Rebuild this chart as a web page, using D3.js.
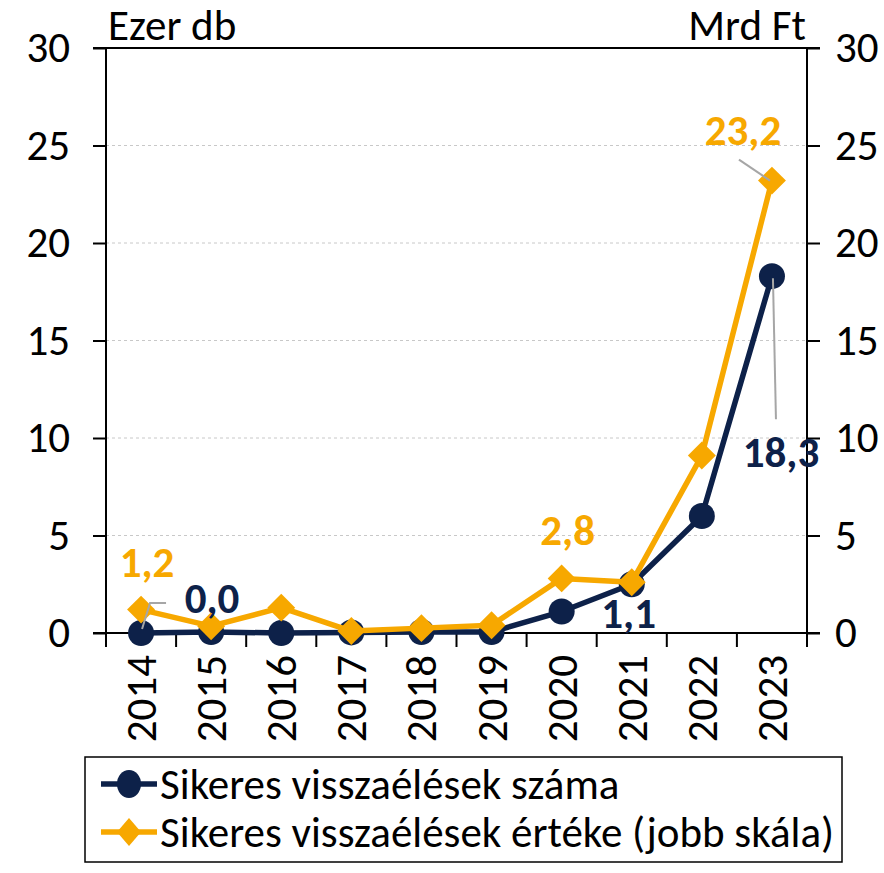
<!DOCTYPE html>
<html>
<head>
<meta charset="utf-8">
<script src="https://cdn.jsdelivr.net/npm/d3@7"></script>
<style>
  body { margin: 0; background: #fff; }
  svg text { font-family: Carlito, Lato, sans-serif; }
</style>
</head>
<body>
<svg id="chart" width="884" height="873"></svg>
<script>
var years = ["2014", "2015", "2016", "2017", "2018", "2019", "2020", "2021", "2022", "2023"];
var countValues = [0.0, 0.05, 0.0, 0.03, 0.05, 0.05, 1.1, 2.5, 6.0, 18.3];
var valueValues = [1.2, 0.35, 1.3, 0.1, 0.25, 0.4, 2.8, 2.6, 9.1, 23.2];
var yTicks = [0, 5, 10, 15, 20, 25, 30];
var seriesNames = ["Sikeres visszaélések száma", "Sikeres visszaélések értéke (jobb skála)"];

var navy = "#0d2149";
var gold = "#f7a800";
var fontSize = 43;

var svg = d3.select("#chart");
var plotLeft = 106, plotRight = 807, plotTop = 48, plotBottom = 633;

var x = d3.scaleBand().domain(years).range([plotLeft, plotRight]);
var yL = d3.scaleLinear().domain([0, 30]).range([plotBottom, plotTop]);
var yR = d3.scaleLinear().domain([0, 30]).range([plotBottom, plotTop]);

var cx = function(d, i) { return x(years[i]) + x.bandwidth() / 2; };

// gridlines
svg.append("g").selectAll("line")
  .data(yTicks.filter(function(t) { return t > 0 && t < 30; }))
  .enter().append("line")
  .attr("x1", plotLeft).attr("x2", plotRight)
  .attr("y1", yL).attr("y2", yL)
  .attr("stroke", "#c8c8c8").attr("stroke-width", 1)
  .attr("stroke-dasharray", "3,3");

// top border line
svg.append("line")
  .attr("x1", plotLeft - 13).attr("x2", plotRight + 13)
  .attr("y1", yL(30)).attr("y2", yL(30))
  .attr("stroke", "#000").attr("stroke-width", 2);

// left and right axes
var gL = svg.append("g")
  .attr("transform", "translate(" + plotLeft + ",0)")
  .call(d3.axisLeft(yL).tickValues(yTicks).tickSize(13).tickPadding(23));
var gR = svg.append("g")
  .attr("transform", "translate(" + plotRight + ",0)")
  .call(d3.axisRight(yR).tickValues(yTicks).tickSize(13).tickPadding(15));
[gL, gR].forEach(function(g) {
  g.select(".domain").attr("d", "M0," + plotTop + "V" + plotBottom)
    .attr("stroke", "#000").attr("stroke-width", 2);
  g.selectAll(".tick line").attr("stroke", "#000").attr("stroke-width", 2);
  g.selectAll(".tick text")
    .attr("font-size", fontSize).attr("fill", "#000")
    .style("font-family", "Carlito, Lato, sans-serif");
});

// x axis
var gX = svg.append("g")
  .attr("transform", "translate(0," + plotBottom + ")")
  .call(d3.axisBottom(x).tickSize(0).tickPadding(0));
gX.select(".domain").attr("d", "M" + (plotLeft - 13) + ",0H" + (plotRight + 13))
  .attr("stroke", "#000").attr("stroke-width", 2);
gX.selectAll(".tick text").remove();
// tick marks on band edges
svg.append("g").selectAll("line")
  .data(d3.range(years.length + 1))
  .enter().append("line")
  .attr("x1", function(i) { return plotLeft + i * x.bandwidth(); })
  .attr("x2", function(i) { return plotLeft + i * x.bandwidth(); })
  .attr("y1", plotBottom).attr("y2", plotBottom + 14)
  .attr("stroke", "#000").attr("stroke-width", 2);
// year labels
svg.append("g").selectAll("text")
  .data(years)
  .enter().append("text")
  .attr("transform", function(d) {
    return "translate(" + (x(d) + x.bandwidth() / 2 + 15) + "," + (plotBottom + 22) + ") rotate(-90)";
  })
  .attr("text-anchor", "end")
  .attr("font-size", fontSize)
  .text(function(d) { return d; });

// unit labels
svg.append("text").attr("x", plotLeft + 2).attr("y", plotTop - 8)
  .attr("font-size", fontSize).text("Ezer db");
svg.append("text").attr("x", plotRight - 1).attr("y", plotTop - 8)
  .attr("text-anchor", "end")
  .attr("font-size", fontSize).text("Mrd Ft");

// series
var lineL = d3.line().x(cx).y(function(d) { return yL(d); });
var lineR = d3.line().x(cx).y(function(d) { return yR(d); });

svg.append("path").datum(countValues)
  .attr("d", lineL).attr("fill", "none")
  .attr("stroke", navy).attr("stroke-width", 5.5).attr("stroke-linejoin", "round");
svg.append("g").selectAll("circle")
  .data(countValues).enter().append("circle")
  .attr("cx", cx).attr("cy", function(d) { return yL(d); })
  .attr("r", 13).attr("fill", navy);

var diamond = d3.symbol().type(d3.symbolSquare).size(390);
svg.append("path").datum(valueValues)
  .attr("d", lineR).attr("fill", "none")
  .attr("stroke", gold).attr("stroke-width", 5.5).attr("stroke-linejoin", "round");
svg.append("g").selectAll("path")
  .data(valueValues).enter().append("path")
  .attr("d", diamond)
  .attr("transform", function(d, i) { return "translate(" + cx(d, i) + "," + yR(d) + ") rotate(45)"; })
  .attr("fill", gold);

// data labels
var fmt = function(v) { return d3.format(".1f")(v).replace(".", ","); };
var labels = [
  { series: 1, i: 0, dx: 6, dy: -33 },
  { series: 0, i: 0, dx: 71, dy: -20 },
  { series: 1, i: 6, dx: 6, dy: -33 },
  { series: 0, i: 6, dx: 67, dy: 16 },
  { series: 1, i: 9, dx: -29, dy: -36 },
  { series: 0, i: 9, dx: 9, dy: 191 }
];
svg.append("g").selectAll("text")
  .data(labels).enter().append("text")
  .attr("x", function(d) { return cx(null, d.i) + d.dx; })
  .attr("y", function(d) {
    var v = d.series === 0 ? countValues[d.i] : valueValues[d.i];
    return (d.series === 0 ? yL(v) : yR(v)) + d.dy;
  })
  .attr("text-anchor", "middle")
  .attr("font-size", fontSize).attr("font-weight", "bold")
  .attr("fill", function(d) { return d.series === 0 ? navy : gold; })
  .text(function(d) {
    return fmt(d.series === 0 ? countValues[d.i] : valueValues[d.i]);
  });

// leader lines
var px0 = cx(null, 0), px9 = cx(null, 9);
svg.append("path")
  .attr("d", "M" + (px0 + 1) + "," + (yL(countValues[0]) - 4) + "L" + (px0 + 9) + "," + (yL(countValues[0]) - 30) + "H" + (px0 + 25))
  .attr("fill", "none").attr("stroke", "#a6a6a6").attr("stroke-width", 2);
svg.append("line")
  .attr("x1", px9 - 33).attr("y1", yR(valueValues[9]) - 21)
  .attr("x2", px9 - 2).attr("y2", yR(valueValues[9]))
  .attr("stroke", "#a6a6a6").attr("stroke-width", 2);
svg.append("line")
  .attr("x1", px9 + 1).attr("y1", yL(countValues[9]) + 2)
  .attr("x2", px9 + 4).attr("y2", yL(countValues[9]) + 143)
  .attr("stroke", "#a6a6a6").attr("stroke-width", 2);

// legend
var lg = svg.append("g");
lg.append("rect").attr("x", 85).attr("y", 757).attr("width", 757).attr("height", 105)
  .attr("fill", "#fff").attr("stroke", "#000").attr("stroke-width", 1.5);
var rows = lg.selectAll("g.row").data(seriesNames).enter().append("g")
  .attr("class", "row")
  .attr("transform", function(d, i) { return "translate(0," + (784 + i * 48) + ")"; });
rows.append("line").attr("x1", 101).attr("x2", 157).attr("y1", 0).attr("y2", 0)
  .attr("stroke", function(d, i) { return i === 0 ? navy : gold; }).attr("stroke-width", 5.5);
rows.filter(function(d, i) { return i === 0; }).append("ellipse")
  .attr("cx", 129).attr("cy", 0).attr("rx", 12).attr("ry", 14).attr("fill", navy);
rows.filter(function(d, i) { return i === 1; }).append("path")
  .attr("d", "M129,-14L141,0L129,14L117,0Z").attr("fill", gold);
rows.append("text").attr("x", 160).attr("y", 15)
  .attr("font-size", fontSize).text(function(d) { return d; });
</script>
</body>
</html>
